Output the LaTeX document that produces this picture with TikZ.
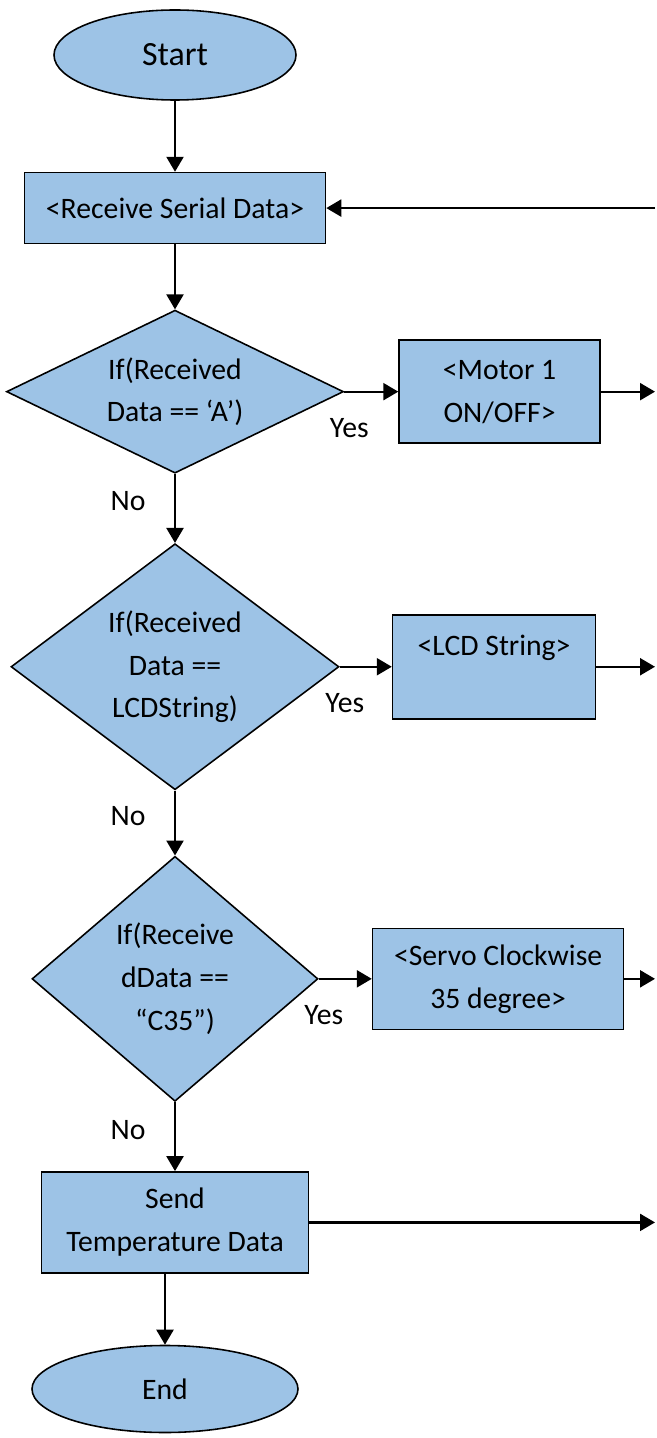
\documentclass[tikz,border=0pt]{standalone}
\usepackage{fontspec}
\setmainfont{Carlito}
\usepackage{tikz}
\usetikzlibrary{shapes.geometric, positioning, arrows.meta}
\definecolor{flowblue}{HTML}{9DC3E6}
\tikzset{
  ->,
  >={Triangle[length=0.3cm, width=0.34cm]},
  every node/.style={font=\fontsize{16.9pt}{24.4pt}\selectfont, align=center},
  terminal/.style={ellipse, draw, line width=0.9pt, fill=flowblue, inner sep=0pt},
  process/.style={rectangle, draw, line width=0.9pt, fill=flowblue},
  decision/.style={diamond, draw, line width=0.9pt, fill=flowblue, inner sep=0pt},
}

\begin{document}
\begin{tikzpicture}
  \useasboundingbox (0,0) rectangle (13.12,-28.76);
  \coordinate (rim) at (13.1,0);

  % blocks
  \node[terminal, minimum width=4.84cm, minimum height=1.8cm, font=\fontsize{19.3pt}{24pt}\selectfont] (start) at (3.5,-1.1) {Start};
  \node[process, below=1.42cm of start, minimum width=6.02cm, minimum height=1.42cm] (recv) {<Receive Serial Data>};
  \node[decision, shape aspect=2, below=1.3cm of recv, minimum width=6.74cm, minimum height=3.26cm] (ifa) {If(Received\\Data == ‘A’)};
  \node[process, right=1.08cm of ifa, minimum width=4.02cm, minimum height=2.06cm] (motor) {<Motor 1\\ON/OFF>};
  \node[decision, shape aspect=1.3, below=1.38cm of ifa, minimum width=6.56cm, minimum height=4.92cm] (iflcd) {If(Received\\Data ==\\LCDString)};
  \node[process, right=1.04cm of iflcd, minimum width=4.06cm, minimum height=2.08cm] (lcd) {<LCD String>\\~};
  \node[decision, shape aspect=1.15, below=1.3cm of iflcd, minimum width=5.72cm, minimum height=4.9cm] (ifservo) {If(Receive\\dData ==\\“C35”)};
  \node[process, right=1.06cm of ifservo, minimum width=5.02cm, minimum height=2.02cm] (servo) {<Servo Clockwise\\35 degree>};
  \node[process, below=1.38cm of ifservo, minimum width=5.34cm, minimum height=2.02cm] (send) {Send\\Temperature Data};
  \node[terminal, below=1.42cm of send, xshift=-0.2cm, minimum width=5.32cm, minimum height=1.74cm] (end) {End};

  % connectors
  \path[line width=1.3pt]
    (start) edge (recv)
    (recv) edge (ifa)
    (ifa) edge node[pos=0.4, left=0.45cm]{No} (iflcd)
    (iflcd) edge node[pos=0.4, left=0.45cm]{No} (ifservo)
    (ifservo) edge node[pos=0.4, left=0.45cm]{No} (send)
    (send.south -| end) edge (end)
    (ifa) edge node[at start, below=0.4cm, xshift=0.1cm]{Yes} (motor)
    (iflcd) edge node[at start, below=0.4cm, xshift=0.1cm]{Yes} (lcd)
    (ifservo) edge node[at start, below=0.4cm, xshift=0.1cm]{Yes} (servo)
    (motor) edge (motor -| rim)
    (lcd) edge (lcd -| rim)
    (servo) edge (servo -| rim)
    (send) edge (send -| rim)
    (recv -| rim) edge (recv);

\end{tikzpicture}
\end{document}
